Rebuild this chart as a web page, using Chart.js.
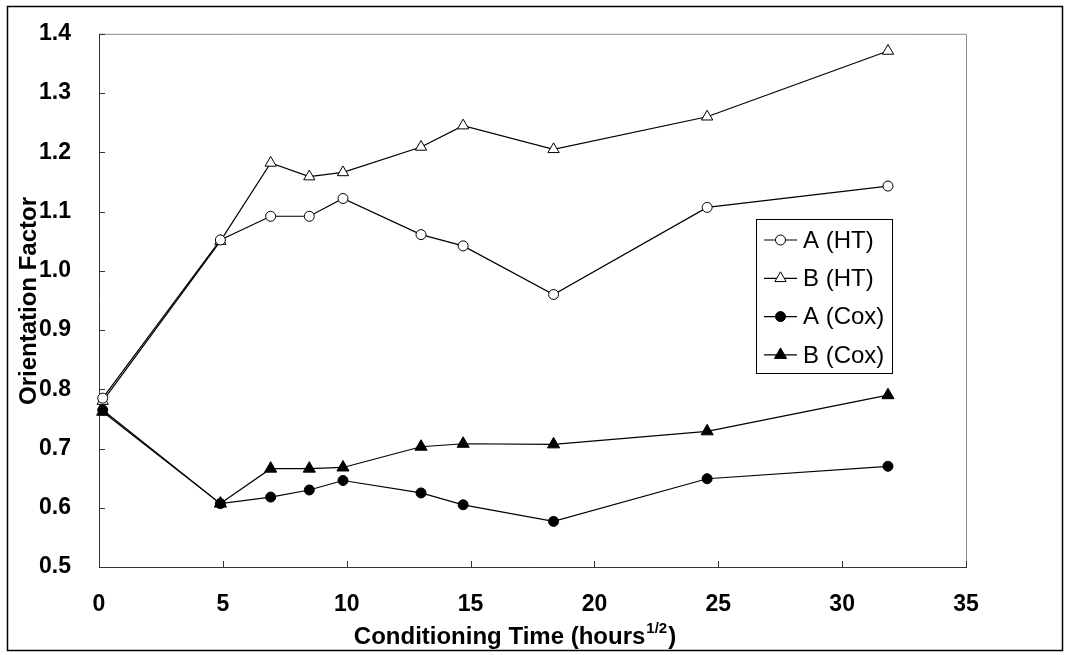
<!DOCTYPE html>
<html>
<head>
<meta charset="utf-8">
<script src="https://cdn.jsdelivr.net/npm/chart.js@4.4.1/dist/chart.umd.min.js"></script>
<style>
  body { margin: 0; background: #fff; }
</style>
</head>
<body>
<canvas id="myChart" width="1068" height="655"></canvas>
<script>
// DONNEES

var xTemps = [0.15, 4.9, 6.93, 8.49, 9.85, 13.0, 14.7, 18.35, 24.55, 31.85];
var aHT = [0.785, 1.052, 1.092, 1.092, 1.122, 1.061, 1.042, 0.960, 1.107, 1.143];
var bHT = [0.780, 1.050, 1.182, 1.159, 1.166, 1.209, 1.245, 1.205, 1.260, 1.371];
var aCox = [0.765, 0.607, 0.618, 0.630, 0.646, 0.625, 0.605, 0.577, 0.649, 0.670];
var bCox = [0.762, 0.607, 0.666, 0.666, 0.668, 0.703, 0.708, 0.707, 0.729, 0.790];
var labels = ["A (HT)", "B (HT)", "A (Cox)", "B (Cox)"];
var xTicks = [0, 5, 10, 15, 20, 25, 30, 35];
var yTicks = [0.5, 0.6, 0.7, 0.8, 0.9, 1.0, 1.1, 1.2, 1.3, 1.4];

var police = "'Liberation Sans', Arial, sans-serif";

function points(ys) {
    var pts = [];
    for (var i = 0; i < xTemps.length; i++) {
        pts.push({ x: xTemps[i], y: ys[i] });
    }
    return pts;
}

function serie(label, ys, forme, rayon, fond) {
    return {
        label: label,
        data: points(ys),
        borderColor: "#000",
        borderWidth: 1.2,
        pointStyle: forme,
        pointRadius: rayon,
        pointBackgroundColor: fond,
        pointBorderColor: "#000",
        pointBorderWidth: 1,
        clip: false,
        tension: 0
    };
}

// CADRE, GRADUATIONS, TITRES ET LEGENDE

var decor = {
    id: "decor",
    beforeDatasetsDraw: function(chart) {
        var ctx = chart.ctx;
        var a = chart.chartArea;
        var sx = chart.scales.x;
        var sy = chart.scales.y;
        ctx.save();
        ctx.lineWidth = 1;
        // haut et droite en gris
        ctx.strokeStyle = "#8a8a8a";
        ctx.beginPath();
        ctx.moveTo(a.left, a.top + 0.5);
        ctx.lineTo(a.right + 0.5, a.top + 0.5);
        ctx.lineTo(a.right + 0.5, a.bottom);
        ctx.stroke();
        // axes
        ctx.strokeStyle = "#333";
        ctx.beginPath();
        ctx.moveTo(a.left + 0.5, a.top);
        ctx.lineTo(a.left + 0.5, a.bottom + 0.5);
        ctx.lineTo(a.right + 1, a.bottom + 0.5);
        ctx.stroke();
        // graduations vers l'interieur
        ctx.beginPath();
        for (var i = 0; i < xTicks.length; i++) {
            var px = Math.round(sx.getPixelForValue(xTicks[i])) + 0.5;
            ctx.moveTo(px, a.bottom);
            ctx.lineTo(px, a.bottom - 6);
        }
        for (var j = 0; j < yTicks.length; j++) {
            var py = Math.round(sy.getPixelForValue(yTicks[j])) + 0.5;
            ctx.moveTo(a.left, py);
            ctx.lineTo(a.left + 6, py);
        }
        ctx.stroke();
        ctx.restore();
    },
    afterDraw: function(chart) {
        var ctx = chart.ctx;
        ctx.save();
        // cadre exterieur
        ctx.strokeStyle = "#000";
        ctx.lineWidth = 1.5;
        ctx.strokeRect(7.5, 6.5, 1055, 644);

        // titre axe Y
        ctx.fillStyle = "#000";
        ctx.font = "bold 24px " + police;
        ctx.textAlign = "center";
        ctx.textBaseline = "middle";
        ctx.save();
        ctx.translate(29, 301);
        ctx.rotate(-Math.PI / 2);
        ctx.fillText("Orientation Factor", 0, 0);
        ctx.restore();

        // titre axe X avec exposant
        var t1 = "Conditioning Time (hours";
        var t2 = "1/2";
        var t3 = ")";
        ctx.font = "bold 24px " + police;
        var w1 = ctx.measureText(t1).width;
        var w3 = ctx.measureText(t3).width;
        ctx.font = "bold 15px " + police;
        var w2 = ctx.measureText(t2).width;
        var x0 = 514 - (w1 + w2 + w3) / 2;
        ctx.textAlign = "left";
        ctx.textBaseline = "alphabetic";
        ctx.font = "bold 24px " + police;
        ctx.fillText(t1, x0, 644);
        ctx.font = "bold 15px " + police;
        ctx.fillText(t2, x0 + w1 + 1, 633);
        ctx.font = "bold 24px " + police;
        ctx.fillText(t3, x0 + w1 + w2 + 2, 644);

        // legende
        ctx.lineWidth = 1;
        ctx.strokeStyle = "#000";
        ctx.strokeRect(756.5, 219.5, 136, 154);
        var ds = chart.data.datasets;
        for (var k = 0; k < ds.length; k++) {
            var ly = 240 + k * 38.3;
            ctx.beginPath();
            ctx.lineWidth = 1.2;
            ctx.moveTo(764, ly);
            ctx.lineTo(797, ly);
            ctx.stroke();
            ctx.lineWidth = 1;
            ctx.fillStyle = ds[k].pointBackgroundColor;
            Chart.helpers.drawPoint(ctx, {
                pointStyle: ds[k].pointStyle,
                radius: ds[k].pointRadius,
                rotation: 0,
                borderWidth: 1
            }, 780.5, ly);
            ctx.fillStyle = "#000";
            ctx.font = "24px " + police;
            ctx.textBaseline = "middle";
            ctx.fillText(ds[k].label, 803, ly + 1);
        }
        ctx.restore();
    }
};

new Chart(document.getElementById("myChart"), {
    type: "line",
    data: {
        datasets: [
            serie(labels[0], aHT, "circle", 5, "#fff"),
            serie(labels[1], bHT, "triangle", 6.5, "#fff"),
            serie(labels[2], aCox, "circle", 5, "#000"),
            serie(labels[3], bCox, "triangle", 7, "#000")
        ]
    },
    options: {
        responsive: false,
        animation: false,
        layout: {
            padding: { left: 0, top: 26, right: 102, bottom: 0 }
        },
        plugins: {
            legend: { display: false },
            tooltip: { enabled: false }
        },
        scales: {
            x: {
                type: "linear",
                min: 0,
                max: 35,
                afterFit: function(scale) { scale.height = 88; },
                afterBuildTicks: function(scale) {
                    scale.ticks = xTicks.map(function(v) { return { value: v }; });
                },
                grid: { display: false },
                border: { display: false },
                ticks: {
                    color: "#000",
                    padding: 16,
                    maxRotation: 0,
                    font: { family: police, size: 23, weight: "bold" }
                }
            },
            y: {
                type: "linear",
                min: 0.5,
                max: 1.4,
                afterFit: function(scale) { scale.width = 99; },
                afterBuildTicks: function(scale) {
                    scale.ticks = yTicks.map(function(v) { return { value: v }; });
                },
                grid: { display: false },
                border: { display: false },
                ticks: {
                    color: "#000",
                    padding: 20,
                    font: { family: police, size: 23, weight: "bold" },
                    callback: function(v) { return v.toFixed(1); }
                }
            }
        }
    },
    plugins: [decor]
});
</script>
</body>
</html>
